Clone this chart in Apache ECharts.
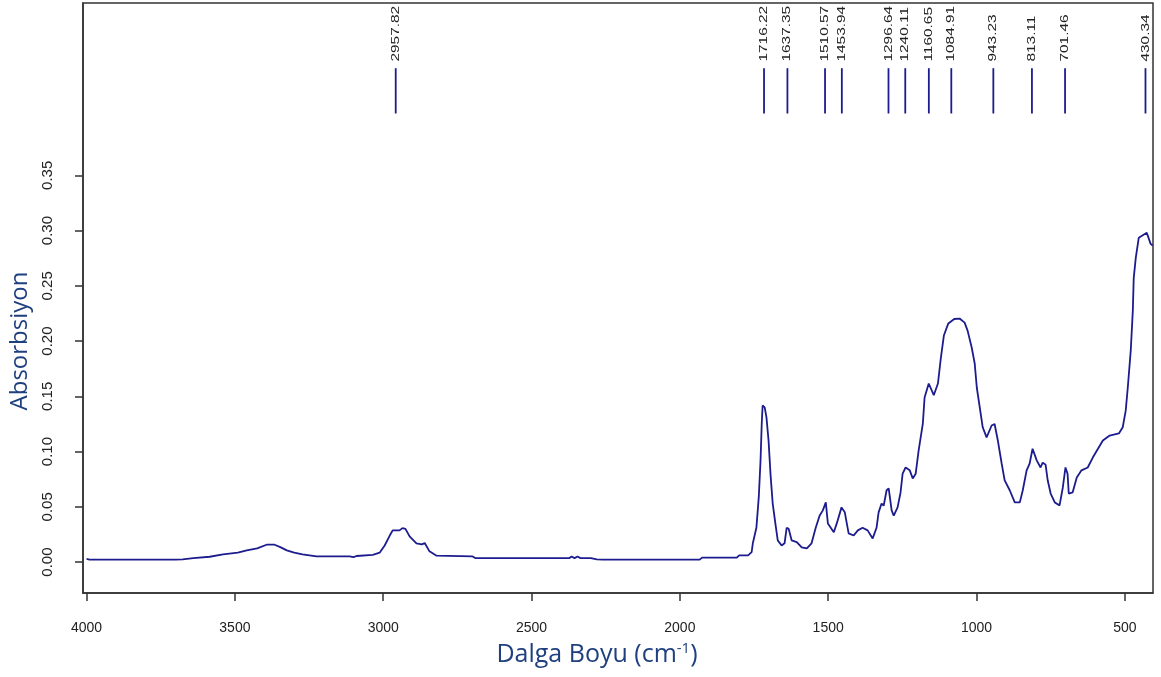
<!DOCTYPE html>
<html>
<head>
<meta charset="utf-8">
<script src="https://cdn.jsdelivr.net/npm/echarts@6/dist/echarts.min.js"></script>
<style>
  html, body { margin: 0; padding: 0; background: #fff; }
  #container { width: 1161px; height: 677px; }
</style>
</head>
<body>
<div id="container"></div>
<script>
// dalga sayisi (cm-1) ve absorbans
var wavenumbers = [4000, 3990, 3900, 3800, 3700, 3676, 3640, 3585, 3540, 3490, 3460, 3425, 3393, 3366, 3345, 3325, 3300, 3272, 3225, 3113, 3100, 3090, 3035, 3012, 2995, 2978, 2968, 2945, 2935, 2925, 2911, 2888, 2870, 2860, 2844, 2820, 2700, 2690, 2372, 2365, 2355, 2345, 2335, 2300, 2280, 2260, 1933, 1925, 1808, 1800, 1770, 1758, 1754, 1742, 1734, 1728, 1724, 1721, 1716, 1714, 1708, 1701, 1694, 1687, 1677, 1670, 1657, 1647, 1640, 1633, 1623, 1606, 1589, 1572, 1556, 1542, 1529, 1518, 1508, 1501, 1481, 1471, 1455, 1444, 1431, 1414, 1400, 1384, 1367, 1350, 1337, 1330, 1320, 1313, 1303, 1296, 1286, 1279, 1266, 1256, 1249, 1239, 1225, 1215, 1205, 1195, 1181, 1175, 1161, 1144, 1130, 1120, 1110, 1095, 1075, 1057, 1040, 1030, 1016, 1006, 999, 989, 979, 966, 949, 939, 935, 928, 915, 905, 888, 871, 854, 844, 831, 821, 811, 797, 784, 777, 767, 760, 750, 736, 720, 709, 700, 693, 689, 676, 662, 646, 625, 608, 594, 574, 551, 520, 507, 497, 490, 480, 473, 470, 463, 453, 426, 423, 413, 406];
var absorbance = [0.0028, 0.0022, 0.0022, 0.0022, 0.0022, 0.0025, 0.0035, 0.0048, 0.007, 0.0085, 0.0106, 0.0124, 0.0157, 0.0157, 0.0133, 0.0106, 0.0085, 0.007, 0.0052, 0.0052, 0.0045, 0.0055, 0.0065, 0.0085, 0.015, 0.024, 0.0287, 0.0287, 0.0307, 0.030, 0.0232, 0.0169, 0.016, 0.0172, 0.0097, 0.0058, 0.0052, 0.0036, 0.0036, 0.005, 0.0036, 0.005, 0.0036, 0.0036, 0.0025, 0.0022, 0.0022, 0.004, 0.004, 0.006, 0.006, 0.009, 0.017, 0.031, 0.0585, 0.092, 0.125, 0.1417, 0.143, 0.14, 0.131, 0.110, 0.078, 0.053, 0.033, 0.0196, 0.015, 0.017, 0.031, 0.030, 0.0196, 0.018, 0.0133, 0.0124, 0.017, 0.031, 0.042, 0.0468, 0.054, 0.035, 0.027, 0.035, 0.0495, 0.045, 0.026, 0.024, 0.0287, 0.031, 0.0287, 0.0214, 0.031, 0.045, 0.053, 0.051, 0.065, 0.0666, 0.0468, 0.042, 0.0495, 0.063, 0.080, 0.0856, 0.083, 0.0757, 0.080, 0.101, 0.125, 0.149, 0.1616, 0.151, 0.1616, 0.185, 0.205, 0.216, 0.220, 0.2204, 0.2167, 0.2095, 0.194, 0.1797, 0.158, 0.14, 0.122, 0.1128, 0.1236, 0.125, 0.1236, 0.110, 0.089, 0.074, 0.065, 0.054, 0.054, 0.065, 0.083, 0.089, 0.1026, 0.092, 0.0856, 0.090, 0.088, 0.074, 0.062, 0.054, 0.0513, 0.0675, 0.0856, 0.080, 0.062, 0.063, 0.0766, 0.083, 0.0856, 0.0946, 0.101, 0.110, 0.1145, 0.1164, 0.122, 0.137, 0.158, 0.1915, 0.2276, 0.257, 0.2755, 0.2935, 0.298, 0.297, 0.288, 0.2864];

// isaretlenen pikler
var peaks = [2957.82, 1716.22, 1637.35, 1510.57, 1453.94, 1296.64, 1240.11, 1160.65, 1084.91, 943.23, 813.11, 701.46, 430.34];

var xTicks = [4000, 3500, 3000, 2500, 2000, 1500, 1000, 500];
var yTicks = [0, 0.05, 0.10, 0.15, 0.20, 0.25, 0.30, 0.35];

var spectrum = wavenumbers.map(function (w, i) { return [w, absorbance[i]]; });

var dom = document.getElementById('container');
var myChart = echarts.init(dom);

var lineColor = '#1c1c8e';
var peakLow = 0.406, peakHigh = 0.447, peakText = 0.453;

var option = {
    animation: false,
    grid: {
        left: 83, right: 8, top: 3, bottom: 84,
        show: true, borderColor: '#333', borderWidth: 1.5
    },
    xAxis: {
        type: 'value',
        inverse: true,
        min: 405,
        max: 4012,
        splitLine: { show: false },
        axisLine: { show: true, onZero: false, lineStyle: { color: '#333', width: 1.5 } },
        axisTick: { show: true, inside: false, length: 8, customValues: xTicks, lineStyle: { color: '#333', width: 1.5 } },
        axisLabel: {
            customValues: xTicks, margin: 28, color: '#222', fontSize: 14, fontFamily: 'Liberation Sans',
            formatter: function (v) { return String(v); }
        },
        name: 'Dalga Boyu (cm{sup|-1})',
        nameLocation: 'middle',
        nameGap: 48,
        nameTextStyle: {
            color: '#1f3f7f', fontSize: 25, fontFamily: 'Open Sans',
            padding: [0, 42, 0, 0], lineHeight: 28,
            rich: {
                sup: { fontSize: 15, color: '#1f3f7f', fontFamily: 'Open Sans', verticalAlign: 'top', lineHeight: 28 }
            }
        }
    },
    yAxis: {
        type: 'value',
        min: -0.028,
        max: 0.506,
        splitLine: { show: false },
        axisLine: { show: true, onZero: false, lineStyle: { color: '#333', width: 1.5 } },
        axisTick: { show: true, inside: false, length: 8, customValues: yTicks, lineStyle: { color: '#333', width: 1.5 } },
        axisLabel: {
            customValues: yTicks, rotate: 90, margin: 28, color: '#222', fontSize: 15, fontFamily: 'Liberation Sans',
            formatter: function (v) { return v.toFixed(2); }
        },
        name: 'Absorbsiyon',
        nameLocation: 'middle',
        nameGap: 50,
        nameRotate: 90,
        nameTextStyle: { color: '#1f3f7f', fontSize: 24, fontFamily: 'Open Sans', padding: [0, 86, 0, 0] }
    },
    series: [
        {
            name: 'spektrum',
            type: 'line',
            data: spectrum,
            showSymbol: false,
            lineStyle: { color: lineColor, width: 1.8 },
            clip: true
        },
        {
            name: 'pikler',
            type: 'custom',
            data: peaks.map(function (p) { return [p]; }),
            renderItem: function (params, api) {
                var w = api.value(0);
                var a = api.coord([w, peakLow]);
                var b = api.coord([w, peakHigh]);
                var t = api.coord([w, peakText]);
                return {
                    type: 'group',
                    children: [
                        {
                            type: 'line',
                            shape: { x1: a[0], y1: a[1], x2: b[0], y2: b[1] },
                            style: { stroke: lineColor, lineWidth: 1.8 }
                        },
                        {
                            type: 'text',
                            x: t[0], y: t[1],
                            rotation: Math.PI / 2,
                            scaleX: 1.4,
                            style: {
                                text: w.toFixed(2),
                                fill: '#222',
                                font: '11px "Liberation Sans"',
                                align: 'left',
                                verticalAlign: 'middle'
                            }
                        }
                    ]
                };
            }
        }
    ]
};

if (option && typeof option === "object") {
    myChart.setOption(option, true);
}
</script>
</body>
</html>
